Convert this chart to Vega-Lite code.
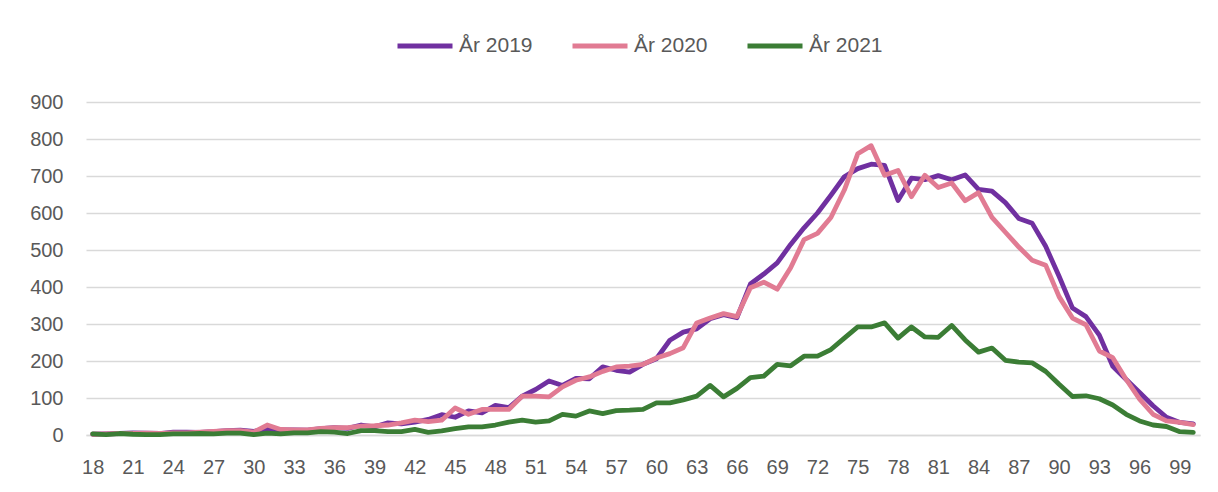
{
  "$schema": "https://vega.github.io/schema/vega-lite/v6.json",
  "width": 1114,
  "height": 333,
  "autosize": {"type": "none"},
  "padding": {"left": 86, "top": 102, "right": 18, "bottom": 57},
  "background": "white",
  "config": {
    "view": {"stroke": null},
    "font": "Liberation Sans"
  },
  "data": {
    "values": [
      {"age":18,"År 2019":2,"År 2020":2,"År 2021":3},
      {"age":19,"År 2019":3,"År 2020":3,"År 2021":1},
      {"age":20,"År 2019":4,"År 2020":4,"År 2021":4},
      {"age":21,"År 2019":6,"År 2020":4,"År 2021":2},
      {"age":22,"År 2019":5,"År 2020":5,"År 2021":1},
      {"age":23,"År 2019":4,"År 2020":4,"År 2021":1},
      {"age":24,"År 2019":8,"År 2020":6,"År 2021":3},
      {"age":25,"År 2019":8,"År 2020":6,"År 2021":3},
      {"age":26,"År 2019":7,"År 2020":8,"År 2021":4},
      {"age":27,"År 2019":9,"År 2020":10,"År 2021":3},
      {"age":28,"År 2019":12,"År 2020":12,"År 2021":5},
      {"age":29,"År 2019":13,"År 2020":12,"År 2021":5},
      {"age":30,"År 2019":10,"År 2020":8,"År 2021":1},
      {"age":31,"År 2019":15,"År 2020":27,"År 2021":5},
      {"age":32,"År 2019":14,"År 2020":15,"År 2021":3},
      {"age":33,"År 2019":14,"År 2020":14,"År 2021":6},
      {"age":34,"År 2019":13,"År 2020":14,"År 2021":6},
      {"age":35,"År 2019":17,"År 2020":18,"År 2021":9},
      {"age":36,"År 2019":20,"År 2020":20,"År 2021":8},
      {"age":37,"År 2019":18,"År 2020":20,"År 2021":4},
      {"age":38,"År 2019":27,"År 2020":24,"År 2021":12},
      {"age":39,"År 2019":22,"År 2020":25,"År 2021":12},
      {"age":40,"År 2019":33,"År 2020":27,"År 2021":9},
      {"age":41,"År 2019":30,"År 2020":33,"År 2021":9},
      {"age":42,"År 2019":35,"År 2020":40,"År 2021":15},
      {"age":43,"År 2019":42,"År 2020":36,"År 2021":7},
      {"age":44,"År 2019":55,"År 2020":40,"År 2021":11},
      {"age":45,"År 2019":48,"År 2020":73,"År 2021":17},
      {"age":46,"År 2019":65,"År 2020":56,"År 2021":22},
      {"age":47,"År 2019":60,"År 2020":69,"År 2021":22},
      {"age":48,"År 2019":80,"År 2020":69,"År 2021":27},
      {"age":49,"År 2019":74,"År 2020":69,"År 2021":35},
      {"age":50,"År 2019":105,"År 2020":105,"År 2021":40},
      {"age":51,"År 2019":123,"År 2020":105,"År 2021":35},
      {"age":52,"År 2019":146,"År 2020":103,"År 2021":38},
      {"age":53,"År 2019":134,"År 2020":130,"År 2021":56},
      {"age":54,"År 2019":153,"År 2020":148,"År 2021":51},
      {"age":55,"År 2019":152,"År 2020":157,"År 2021":65},
      {"age":56,"År 2019":184,"År 2020":172,"År 2021":58},
      {"age":57,"År 2019":175,"År 2020":184,"År 2021":66},
      {"age":58,"År 2019":170,"År 2020":186,"År 2021":67},
      {"age":59,"År 2019":191,"År 2020":191,"År 2021":69},
      {"age":60,"År 2019":206,"År 2020":208,"År 2021":87},
      {"age":61,"År 2019":256,"År 2020":220,"År 2021":87},
      {"age":62,"År 2019":278,"År 2020":236,"År 2021":95},
      {"age":63,"År 2019":287,"År 2020":303,"År 2021":105},
      {"age":64,"År 2019":314,"År 2020":316,"År 2021":134},
      {"age":65,"År 2019":325,"År 2020":328,"År 2021":103},
      {"age":66,"År 2019":317,"År 2020":320,"År 2021":126},
      {"age":67,"År 2019":408,"År 2020":398,"År 2021":155},
      {"age":68,"År 2019":435,"År 2020":413,"År 2021":159},
      {"age":69,"År 2019":465,"År 2020":394,"År 2021":191},
      {"age":70,"År 2019":515,"År 2020":452,"År 2021":187},
      {"age":71,"År 2019":560,"År 2020":528,"År 2021":213},
      {"age":72,"År 2019":600,"År 2020":545,"År 2021":213},
      {"age":73,"År 2019":648,"År 2020":588,"År 2021":231},
      {"age":74,"År 2019":698,"År 2020":662,"År 2021":262},
      {"age":75,"År 2019":720,"År 2020":760,"År 2021":292},
      {"age":76,"År 2019":732,"År 2020":782,"År 2021":292},
      {"age":77,"År 2019":729,"År 2020":702,"År 2021":303},
      {"age":78,"År 2019":634,"År 2020":715,"År 2021":262},
      {"age":79,"År 2019":694,"År 2020":644,"År 2021":292},
      {"age":80,"År 2019":690,"År 2020":702,"År 2021":265},
      {"age":81,"År 2019":701,"År 2020":669,"År 2021":264},
      {"age":82,"År 2019":690,"År 2020":681,"År 2021":296},
      {"age":83,"År 2019":703,"År 2020":633,"År 2021":257},
      {"age":84,"År 2019":664,"År 2020":655,"År 2021":224},
      {"age":85,"År 2019":659,"År 2020":588,"År 2021":235},
      {"age":86,"År 2019":628,"År 2020":548,"År 2021":202},
      {"age":87,"År 2019":585,"År 2020":508,"År 2021":197},
      {"age":88,"År 2019":572,"År 2020":472,"År 2021":195},
      {"age":89,"År 2019":510,"År 2020":459,"År 2021":172},
      {"age":90,"År 2019":429,"År 2020":374,"År 2021":137},
      {"age":91,"År 2019":343,"År 2020":316,"År 2021":104},
      {"age":92,"År 2019":320,"År 2020":298,"År 2021":106},
      {"age":93,"År 2019":270,"År 2020":227,"År 2021":98},
      {"age":94,"År 2019":186,"År 2020":209,"År 2021":81},
      {"age":95,"År 2019":150,"År 2020":150,"År 2021":56},
      {"age":96,"År 2019":115,"År 2020":97,"År 2021":38},
      {"age":97,"År 2019":79,"År 2020":56,"År 2021":27},
      {"age":98,"År 2019":48,"År 2020":38,"År 2021":23},
      {"age":99,"År 2019":34,"År 2020":34,"År 2021":9},
      {"age":100,"År 2019":30,"År 2020":28,"År 2021":7}
    ]
  },
  "transform": [
    {"fold": ["År 2019", "År 2020", "År 2021"], "as": ["serie", "antal"]}
  ],
  "mark": {"type": "line", "strokeWidth": 4.8, "strokeJoin": "round", "strokeCap": "round"},
  "encoding": {
    "x": {
      "field": "age",
      "type": "quantitative",
      "scale": {"domain": [17.5, 100.5], "nice": false, "zero": false},
      "axis": {
        "title": null,
        "values": [18,21,24,27,30,33,36,39,42,45,48,51,54,57,60,63,66,69,72,75,78,81,84,87,90,93,96,99],
        "grid": false,
        "ticks": false,
        "domain": true,
        "domainColor": "#D9D9D9",
        "domainWidth": 1.5,
        "labelFontSize": 20,
        "labelColor": "#595959",
        "labelPadding": 22,
        "labelFlush": false,
        "labelOverlap": false
      }
    },
    "y": {
      "field": "antal",
      "type": "quantitative",
      "scale": {"domain": [0, 900], "nice": false},
      "axis": {
        "title": null,
        "values": [0,100,200,300,400,500,600,700,800,900],
        "grid": true,
        "gridColor": "#D9D9D9",
        "gridWidth": 1.5,
        "ticks": false,
        "domain": false,
        "labelFontSize": 20,
        "labelColor": "#595959",
        "labelPadding": 23
      }
    },
    "color": {
      "field": "serie",
      "type": "nominal",
      "scale": {"domain": ["År 2019", "År 2020", "År 2021"], "range": ["#7030A0", "#E17B93", "#3B7D35"]},
      "legend": {
        "title": null,
        "orient": "none",
        "legendX": 309,
        "legendY": -86,
        "direction": "horizontal",
        "symbolType": "stroke",
        "symbolSize": 3025,
        "symbolStrokeWidth": 5,
        "labelFontSize": 21,
        "labelColor": "#595959",
        "labelOffset": 4,
        "columnPadding": 29
      }
    }
  }
}
